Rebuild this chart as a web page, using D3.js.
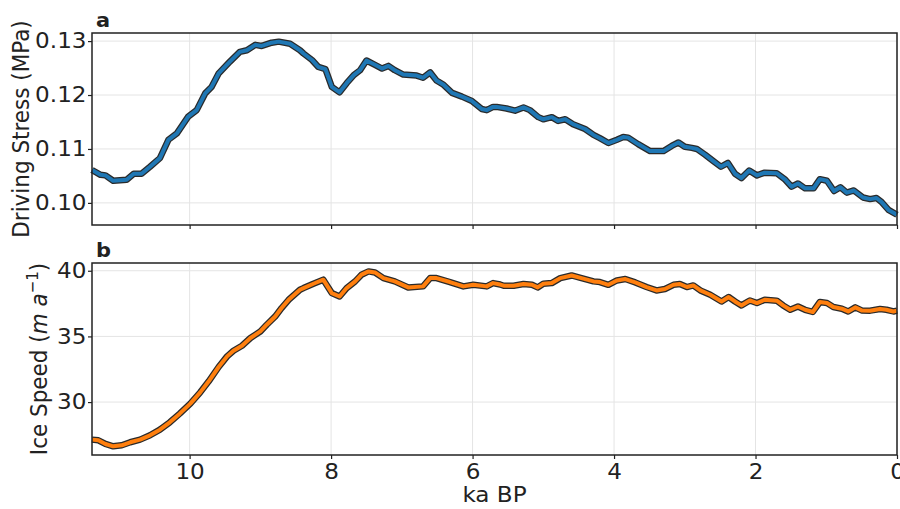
<!DOCTYPE html>
<html>
<head>
<meta charset="utf-8">
<script src="https://cdn.jsdelivr.net/npm/d3@7"></script>
<style>
  body { margin: 0; background: #fff; }
  svg text { font-family: "DejaVu Sans", sans-serif; fill: #222; }
</style>
</head>
<body>
<svg id="chart" width="900" height="509"></svg>
<script>
// panel a: driving stress (MPa) against age (ka BP)
var stressAge = [11.38, 11.26, 11.19, 11.08, 10.89, 10.79, 10.68, 10.56, 10.42, 10.30, 10.18, 10.02, 9.90, 9.78, 9.69, 9.59, 9.43, 9.29, 9.19, 9.07, 8.98, 8.84, 8.74, 8.58, 8.44, 8.39, 8.27, 8.18, 8.08, 7.99, 7.88, 7.78, 7.68, 7.59, 7.50, 7.38, 7.28, 7.19, 7.10, 6.98, 6.79, 6.70, 6.60, 6.51, 6.41, 6.29, 6.15, 6.01, 5.87, 5.80, 5.71, 5.66, 5.52, 5.40, 5.28, 5.19, 5.07, 5.00, 4.88, 4.79, 4.69, 4.58, 4.41, 4.29, 4.20, 4.08, 3.96, 3.87, 3.80, 3.66, 3.49, 3.30, 3.18, 3.09, 3.00, 2.90, 2.83, 2.71, 2.60, 2.49, 2.39, 2.29, 2.20, 2.09, 1.98, 1.87, 1.70, 1.58, 1.49, 1.40, 1.30, 1.18, 1.09, 0.99, 0.89, 0.80, 0.71, 0.61, 0.48, 0.38, 0.29, 0.22, 0.12, 0.00];
var stress = [0.1061, 0.1052, 0.1051, 0.1041, 0.1043, 0.1054, 0.1054, 0.1067, 0.1083, 0.1117, 0.1129, 0.1160, 0.1172, 0.1203, 0.1215, 0.1240, 0.1262, 0.1280, 0.1283, 0.1293, 0.1291, 0.1297, 0.1299, 0.1295, 0.1283, 0.1277, 0.1265, 0.1252, 0.1248, 0.1215, 0.1205, 0.1222, 0.1237, 0.1246, 0.1264, 0.1256, 0.1249, 0.1254, 0.1246, 0.1238, 0.1236, 0.1232, 0.1242, 0.1227, 0.1219, 0.1204, 0.1197, 0.1189, 0.1174, 0.1172, 0.1178, 0.1178, 0.1175, 0.1171, 0.1177, 0.1172, 0.1159, 0.1155, 0.1159, 0.1152, 0.1155, 0.1146, 0.1137, 0.1126, 0.1120, 0.1111, 0.1117, 0.1122, 0.1121, 0.1109, 0.1096, 0.1096, 0.1106, 0.1112, 0.1104, 0.1102, 0.1100, 0.1089, 0.1078, 0.1067, 0.1074, 0.1054, 0.1046, 0.1060, 0.1051, 0.1056, 0.1055, 0.1043, 0.1030, 0.1036, 0.1027, 0.1027, 0.1044, 0.1041, 0.1022, 0.1029, 0.1019, 0.1023, 0.1010, 0.1007, 0.1009, 0.1002, 0.0987, 0.0978];

// panel b: ice speed (m/a) against age (ka BP)
var speedAge = [11.38, 11.29, 11.19, 11.08, 10.96, 10.84, 10.70, 10.56, 10.42, 10.28, 10.14, 9.99, 9.85, 9.73, 9.59, 9.47, 9.38, 9.26, 9.14, 9.00, 8.91, 8.79, 8.70, 8.60, 8.44, 8.39, 8.25, 8.11, 7.99, 7.88, 7.78, 7.66, 7.57, 7.47, 7.38, 7.26, 7.10, 6.91, 6.70, 6.60, 6.51, 6.32, 6.13, 5.99, 5.80, 5.71, 5.61, 5.56, 5.42, 5.28, 5.16, 5.08, 5.00, 4.88, 4.76, 4.60, 4.46, 4.29, 4.20, 4.08, 3.96, 3.84, 3.70, 3.54, 3.40, 3.28, 3.16, 3.07, 2.97, 2.88, 2.78, 2.64, 2.48, 2.38, 2.29, 2.20, 2.08, 1.98, 1.87, 1.70, 1.61, 1.51, 1.40, 1.30, 1.19, 1.09, 0.99, 0.90, 0.78, 0.69, 0.59, 0.50, 0.38, 0.24, 0.15, 0.05, 0.00];
var speed = [27.14, 27.09, 26.81, 26.63, 26.71, 26.94, 27.14, 27.47, 27.90, 28.46, 29.12, 29.88, 30.74, 31.58, 32.67, 33.48, 33.91, 34.29, 34.88, 35.38, 35.89, 36.52, 37.16, 37.79, 38.55, 38.68, 39.01, 39.32, 38.30, 38.04, 38.68, 39.19, 39.70, 39.95, 39.87, 39.44, 39.19, 38.73, 38.81, 39.44, 39.44, 39.14, 38.81, 38.93, 38.81, 39.06, 38.95, 38.86, 38.86, 38.99, 38.93, 38.73, 39.01, 39.06, 39.44, 39.64, 39.44, 39.19, 39.14, 38.93, 39.26, 39.37, 39.11, 38.76, 38.50, 38.61, 38.93, 38.99, 38.76, 38.88, 38.50, 38.17, 37.66, 38.00, 37.66, 37.36, 37.74, 37.54, 37.79, 37.72, 37.36, 37.03, 37.28, 37.03, 36.86, 37.62, 37.54, 37.24, 37.11, 36.90, 37.21, 36.98, 36.96, 37.09, 37.03, 36.90, 36.96];

var xTicks = [10, 8, 6, 4, 2, 0];
var stressTicks = [0.10, 0.11, 0.12, 0.13];
var speedTicks = [30, 35, 40];

var svg = d3.select('#chart');
var left = 92, right = 897;
var sx = 1.1; // the figure is a bit wider than tall, text is stretched with it

var x = d3.scaleLinear().domain([11.38, 0]).range([left, right]);

function panel(cfg) {
  var y = d3.scaleLinear().domain(cfg.domain).range([cfg.bottom, cfg.top]);
  var g = svg.append('g');

  // grid
  g.selectAll('.vgrid').data(xTicks).enter().append('line')
    .attr('x1', function (d) { return x(d); }).attr('x2', function (d) { return x(d); })
    .attr('y1', cfg.top).attr('y2', cfg.bottom)
    .attr('stroke', '#e4e4e4').attr('stroke-width', 1);
  g.selectAll('.hgrid').data(cfg.ticks).enter().append('line')
    .attr('x1', left).attr('x2', right)
    .attr('y1', function (d) { return y(d); }).attr('y2', function (d) { return y(d); })
    .attr('stroke', '#e4e4e4').attr('stroke-width', 1);

  // curve with dark outline
  var line = d3.line()
    .x(function (d, i) { return x(cfg.ages[i]); })
    .y(function (d) { return y(d); });
  g.append('path').datum(cfg.values)
    .attr('d', line).attr('fill', 'none')
    .attr('stroke', '#2a2a2a').attr('stroke-width', 6.5)
    .attr('stroke-linejoin', 'round').attr('stroke-linecap', 'butt');
  g.append('path').datum(cfg.values)
    .attr('d', line).attr('fill', 'none')
    .attr('stroke', cfg.color).attr('stroke-width', 4)
    .attr('stroke-linejoin', 'round').attr('stroke-linecap', 'butt');

  // axes
  var yAxis = d3.axisLeft(y).tickValues(cfg.ticks).tickFormat(cfg.format).tickSize(4).tickPadding(1);
  var ya = g.append('g').attr('transform', 'translate(' + left + ',0)').call(yAxis);
  var xAxis = d3.axisBottom(x).tickValues(xTicks).tickSize(4).tickPadding(5)
    .tickFormat(cfg.xLabels ? d3.format('d') : '');
  var xa = g.append('g').attr('transform', 'translate(0,' + cfg.bottom + ')').call(xAxis);
  [ya, xa].forEach(function (a) {
    a.select('.domain').remove();
    a.selectAll('line').attr('stroke', '#222').attr('stroke-width', 1.2);
    a.selectAll('text').attr('font-size', 21).attr('fill', '#222')
      .attr('transform', 'scale(' + sx + ',1)')
      .style('font-family', '"DejaVu Sans", sans-serif');
  });

  g.append('rect')
    .attr('x', left).attr('y', cfg.top)
    .attr('width', right - left).attr('height', cfg.bottom - cfg.top)
    .attr('fill', 'none').attr('stroke', '#222').attr('stroke-width', 1.5);

  g.append('text')
    .attr('transform', 'translate(96,' + (cfg.top - 6) + ') scale(' + sx + ',1)')
    .attr('font-size', 19).attr('font-weight', 'bold').text(cfg.letter);

  var lab = g.append('text')
    .attr('transform', 'translate(' + cfg.labelX + ',' + (cfg.top + cfg.bottom) / 2 + ') scale(' + sx + ',1) rotate(-90)')
    .attr('text-anchor', 'middle').attr('font-size', 21.5);
  cfg.label(lab);
  return g;
}

panel({
  ages: stressAge, values: stress, domain: [0.0959, 0.1315], top: 33, bottom: 225,
  ticks: stressTicks, format: d3.format('.2f'), color: '#1f77b4', letter: 'a', xLabels: false,
  labelX: 29,
  label: function (t) { t.text('Driving Stress (MPa)'); }
});

panel({
  ages: speedAge, values: speed, domain: [25.97, 40.59], top: 263, bottom: 455,
  ticks: speedTicks, format: d3.format('d'), color: '#ff7f0e', letter: 'b', xLabels: true,
  labelX: 47,
  label: function (t) {
    t.append('tspan').text('Ice Speed (');
    t.append('tspan').attr('font-style', 'italic').text('m a');
    t.append('tspan').attr('baseline-shift', 'super').attr('font-size', 15).text('\u22121');
    t.append('tspan').text(')');
  }
});

svg.append('text')
  .attr('transform', 'translate(' + (left + right) / 2 + ',502) scale(' + sx + ',1)')
  .attr('text-anchor', 'middle').attr('font-size', 21).text('ka BP');
</script>
</body>
</html>
